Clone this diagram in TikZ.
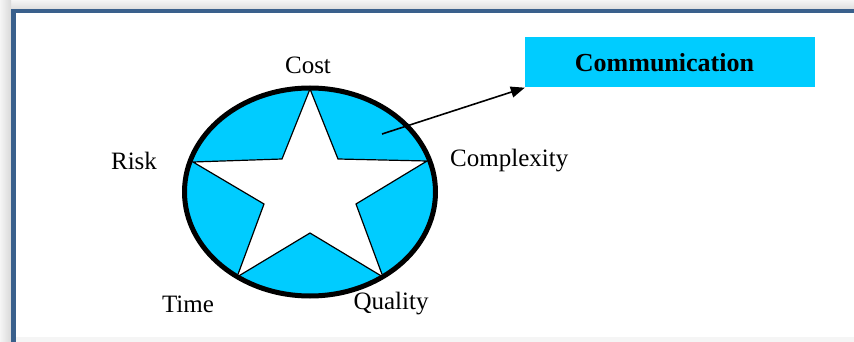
\documentclass[tikz,border=0pt]{standalone}
\usepackage{fontspec}
\setmainfont{Liberation Serif}
\usepackage{tikz}
\usetikzlibrary{arrows.meta, positioning, calc}
\definecolor{skyblue}{RGB}{0, 204, 255}
\definecolor{framblue}{RGB}{58, 96, 140}
\tikzset{
    tagtext/.style = {font=\fontsize{25}{29}\selectfont, inner sep=0pt},
    topicbox/.style = {rectangle, fill=skyblue, minimum width=290pt, minimum height=50pt, font=\fontsize{26}{30}\selectfont\bfseries},
    arrow/.style = {line width=1.6pt, -{Triangle[length=14pt, width=11pt]}},
    ring/.style = {line width=5pt, fill=skyblue},
    starline/.style = {line width=1.2pt, fill=white, line join=miter}
}

\begin{document}
\begin{tikzpicture}[x=1pt, y=-1pt]
\useasboundingbox (0,0) rectangle (854,342);
% page frame and its shadow
\shade[top color=gray!8, bottom color=gray!30] (0,0) rectangle (854,11);
\shade[left color=gray!8, right color=gray!30] (0,0) rectangle (11,342);
\fill[white] (16,13) rectangle (854,337);
\fill[gray!8] (16,337) rectangle (854,342);
\draw[framblue, line width=4.5pt] (13.5,400) -- (13.5,11) -- (900,11);

% ring and star
\draw[ring] (310,192) ellipse (125.5 and 104);
\draw[starline] (310,89) -- (338,159) -- (427,161) -- (356,204) -- (383,277)
    -- (310,233) -- (237,277) -- (264,204) -- (193,162) -- (282,159) -- cycle;

% labels
\node (cost) [tagtext] at (308,65) {Cost};
\node (risk) [tagtext] at (134,161) {Risk};
\node (complexity) [tagtext, anchor=west] at (450,161) {Complexity};
\node (time) [tagtext] at (188,304) {Time};
\node (quality) [tagtext] at (391,304) {Quality};

\node (comm) [topicbox] at (670,62.5) {\hspace*{-11pt}Communication};
\coordinate (inner) at (382,134);
\draw [arrow] (inner) -- (comm.south west);
\end{tikzpicture}
\end{document}
